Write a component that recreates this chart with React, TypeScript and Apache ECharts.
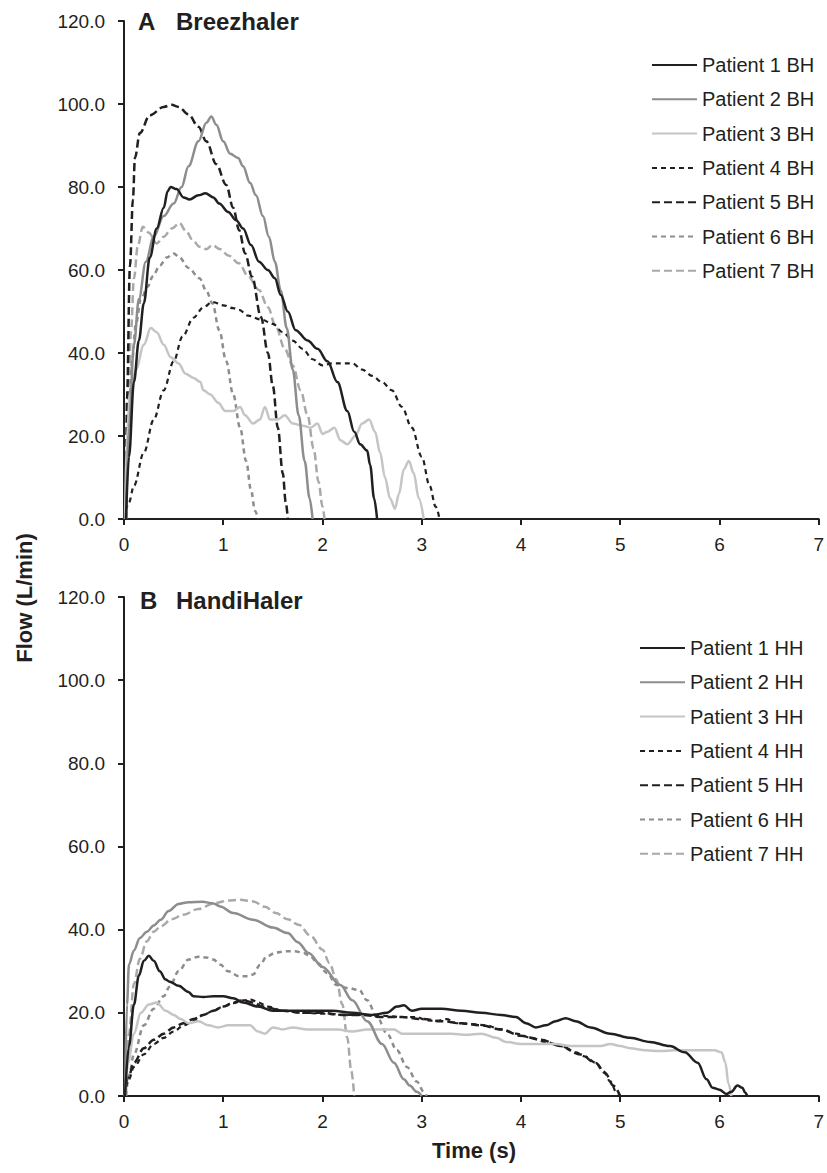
import React, { useEffect, useRef } from "react";
import * as echarts from "echarts";

// ---- Data (time s, flow L/min) ----
const xTicks = [0, 1, 2, 3, 4, 5, 6, 7];
const yTicks = [0, 20, 40, 60, 80, 100, 120];

const bhNames = ["Patient 1 BH", "Patient 2 BH", "Patient 3 BH", "Patient 4 BH", "Patient 5 BH", "Patient 6 BH", "Patient 7 BH"];
const hhNames = ["Patient 1 HH", "Patient 2 HH", "Patient 3 HH", "Patient 4 HH", "Patient 5 HH", "Patient 6 HH", "Patient 7 HH"];

const bh1 = [[0.02,0],[0.05,15],[0.1,33],[0.15,43],[0.2,52],[0.26,63],[0.33,70],[0.4,75],[0.44,79],[0.47,80],[0.53,79.5],[0.6,77.5],[0.66,77],[0.75,78],[0.82,78.5],[0.9,77.5],[0.96,76],[1.05,74],[1.13,72],[1.2,70],[1.28,66],[1.36,62],[1.45,60],[1.52,58],[1.58,54],[1.65,50],[1.73,45.5],[1.85,43],[1.95,41],[2.05,38],[2.15,33],[2.25,26],[2.32,21],[2.38,18],[2.45,16.5],[2.48,13],[2.52,5],[2.55,0]];
const bh2 = [[0.02,0],[0.05,22],[0.1,42],[0.15,53],[0.22,62],[0.3,68],[0.4,73],[0.5,76],[0.58,80],[0.65,85],[0.75,91],[0.83,95.5],[0.88,97],[0.93,95],[1.0,91],[1.07,88],[1.15,87],[1.2,85],[1.27,81],[1.33,78],[1.4,73],[1.46,68],[1.52,62],[1.58,55],[1.64,46],[1.7,36],[1.76,25],[1.82,14],[1.87,5],[1.9,0]];
const bh3 = [[0.01,0],[0.03,20],[0.06,30],[0.12,36],[0.2,42],[0.27,46],[0.33,45],[0.4,42],[0.47,39],[0.55,37.5],[0.62,35],[0.7,34],[0.77,33],[0.8,31],[0.87,30],[0.95,28],[1.02,26],[1.1,26],[1.17,27],[1.22,25],[1.3,23],[1.37,24],[1.42,27],[1.47,24],[1.55,24],[1.62,25],[1.7,23],[1.8,22.5],[1.88,22],[1.95,23],[2.0,20.5],[2.05,21],[2.12,22],[2.18,19],[2.25,18],[2.33,20],[2.4,23],[2.47,24],[2.53,21],[2.58,16],[2.63,10],[2.68,5],[2.73,2.5],[2.77,6],[2.82,12],[2.87,14],[2.92,11],[2.97,5],[3.02,0]];
const bh4 = [[0,0],[0.05,4],[0.1,8],[0.2,16],[0.3,24],[0.4,31],[0.5,38],[0.59,44],[0.7,48.5],[0.8,51],[0.89,52.3],[1.0,51.5],[1.1,50.8],[1.16,50.4],[1.25,49],[1.39,48],[1.5,47],[1.6,45],[1.7,43],[1.8,41],[1.9,38.5],[2.0,37],[2.1,37.5],[2.2,37.5],[2.3,37.5],[2.4,36],[2.5,34.5],[2.6,33],[2.7,31],[2.8,27],[2.9,22],[3.0,15],[3.08,8],[3.14,3],[3.18,0]];
const bh5 = [[0.02,0],[0.03,29],[0.06,61],[0.09,77],[0.11,87],[0.16,93],[0.26,97.3],[0.4,99.3],[0.48,99.8],[0.55,99.3],[0.65,97.5],[0.75,94.5],[0.83,91],[0.93,85.5],[1.03,80.5],[1.1,75],[1.16,69.6],[1.22,64],[1.29,58.4],[1.38,48.7],[1.45,40],[1.5,32],[1.55,22],[1.6,11],[1.63,4],[1.65,0]];
const bh6 = [[0.02,0],[0.05,25],[0.08,38],[0.12,47],[0.17,53],[0.24,56],[0.29,58.5],[0.36,61],[0.43,63],[0.5,64],[0.56,63],[0.65,60.5],[0.76,58],[0.83,55],[0.89,52],[0.96,45.5],[1.03,38],[1.1,30],[1.17,22],[1.23,14],[1.28,7],[1.32,2],[1.35,0]];
const bh7 = [[0.02,0],[0.04,25],[0.07,45],[0.1,58],[0.14,66],[0.19,70.4],[0.25,69],[0.33,66.4],[0.4,68],[0.48,70],[0.56,71.3],[0.62,69.5],[0.7,67],[0.76,65.6],[0.83,65],[0.89,66],[0.97,65],[1.05,63.5],[1.16,61.6],[1.25,58.5],[1.36,55.2],[1.45,51],[1.53,46.3],[1.62,41],[1.7,37],[1.78,31],[1.85,25],[1.91,17],[1.96,9],[2.0,3],[2.02,0]];

const hh1 = [[0.01,0],[0.05,12],[0.1,22],[0.15,29],[0.2,32.5],[0.25,33.7],[0.3,32.5],[0.36,30],[0.42,28],[0.46,27.5],[0.55,26.5],[0.65,25],[0.7,24],[0.8,23.8],[0.9,24],[1.0,24],[1.1,23.5],[1.2,22.5],[1.35,21.5],[1.5,20.5],[1.7,20.5],[1.9,20.5],[2.1,20.5],[2.3,20],[2.5,19.5],[2.65,20],[2.75,21.5],[2.82,21.8],[2.9,20.5],[3.0,21],[3.2,21],[3.4,20.5],[3.6,20],[3.8,19.5],[3.95,19],[4.05,17.5],[4.15,16.5],[4.25,17],[4.35,18],[4.45,18.7],[4.55,18],[4.7,16.5],[4.9,15],[5.1,14],[5.3,13],[5.5,12],[5.65,10.5],[5.78,8],[5.87,4],[5.93,2],[6.0,1.5],[6.07,0.5],[6.12,1],[6.18,2.5],[6.23,2],[6.26,0.8],[6.28,0]];
const hh2 = [[0.01,0],[0.03,22],[0.05,31.6],[0.1,35],[0.16,38],[0.23,39.5],[0.3,41],[0.37,42.4],[0.45,44.5],[0.55,46.2],[0.65,46.6],[0.79,46.7],[0.9,46.3],[0.97,45.6],[1.1,44],[1.3,42.4],[1.5,40.5],[1.65,39.2],[1.75,37],[1.86,34.4],[2.0,31],[2.18,26.7],[2.3,23],[2.45,18],[2.6,12.5],[2.72,8],[2.82,4],[2.88,2.5],[2.95,1],[3.0,0]];
const hh3 = [[0.01,0],[0.04,8],[0.1,15],[0.17,20],[0.25,22],[0.33,22.5],[0.42,20.5],[0.5,19.5],[0.57,18.5],[0.65,17.5],[0.75,18],[0.85,17],[0.95,16.5],[1.05,17],[1.15,17],[1.27,17],[1.35,15.5],[1.42,15],[1.5,16.5],[1.6,16],[1.7,16.5],[1.85,16],[2.0,16],[2.15,16],[2.3,15.5],[2.45,16],[2.6,16],[2.72,16],[2.8,15],[2.95,15],[3.1,15],[3.3,15],[3.45,14.7],[3.6,15],[3.75,14],[3.85,13],[4.0,12.5],[4.2,12.5],[4.35,12.5],[4.5,12],[4.65,12],[4.8,12],[4.9,12.5],[5.0,12],[5.1,11.5],[5.25,11],[5.4,10.8],[5.55,11],[5.7,11],[5.85,11],[5.95,11],[6.02,10.5],[6.06,8],[6.09,3],[6.12,0]];
const hh4 = [[0,0],[0.05,4],[0.1,7],[0.2,10],[0.3,12.5],[0.4,14],[0.5,15.5],[0.6,17],[0.7,18],[0.8,19.5],[0.9,20.5],[1.0,21.5],[1.1,22.3],[1.2,23],[1.28,23.2],[1.35,22.5],[1.45,21.5],[1.6,20.5],[1.8,20],[2.0,19.8],[2.2,19.5],[2.4,19.5],[2.6,19.3],[2.8,19],[2.95,19],[3.05,18.2],[3.15,18],[3.25,18.5],[3.35,17.5],[3.5,17.3],[3.65,17],[3.8,16],[3.95,15],[4.1,14],[4.25,13],[4.4,12],[4.55,10.5],[4.65,9.5],[4.75,8],[4.83,6],[4.9,3.5],[4.96,1],[5.0,0]];
const hh5 = [[0,0],[0.05,5],[0.1,8],[0.2,11.5],[0.3,13.5],[0.4,15],[0.5,16.5],[0.6,17.5],[0.7,18.5],[0.8,19.5],[0.9,20.5],[1.0,21.5],[1.1,22.5],[1.2,23],[1.3,22.5],[1.4,21.5],[1.6,20.5],[1.8,20],[2.0,20],[2.2,19.5],[2.4,19.5],[2.6,19],[2.8,19],[3.0,18.5],[3.2,18],[3.4,17.5],[3.6,17],[3.8,16],[4.0,14.5],[4.2,13.5],[4.4,12],[4.6,10],[4.75,8],[4.85,5.5],[4.93,2.5],[5.0,0]];
const hh6 = [[0.02,0],[0.05,5],[0.1,10],[0.2,17],[0.3,21],[0.4,24],[0.46,26.3],[0.55,30],[0.65,32.8],[0.75,33.5],[0.83,33.3],[0.9,32.8],[0.97,31.6],[1.05,30],[1.16,28.8],[1.25,28.8],[1.3,29.2],[1.37,31.5],[1.44,33.6],[1.53,34.5],[1.62,34.8],[1.72,34.8],[1.81,34.4],[1.88,33.5],[1.95,32],[2.05,29.5],[2.14,26.7],[2.25,26],[2.37,25.5],[2.45,23],[2.55,19],[2.65,15],[2.75,11],[2.85,7],[2.95,3.5],[3.02,1],[3.05,0]];
const hh7 = [[0.02,0],[0.05,15],[0.1,27],[0.16,33],[0.23,37.2],[0.3,39.5],[0.37,40.8],[0.48,42.5],[0.6,43.6],[0.75,45],[0.92,46.4],[1.05,47],[1.16,47.2],[1.3,46.8],[1.42,45.5],[1.53,44],[1.65,42.5],[1.76,41.2],[1.88,38.5],[2.0,35.2],[2.07,32],[2.14,28],[2.2,22],[2.25,14],[2.29,6],[2.32,0]];

const bhData = [bh1, bh2, bh3, bh4, bh5, bh6, bh7];
const hhData = [hh1, hh2, hh3, hh4, hh5, hh6, hh7];

const DARK = "#231f20";
const styles = [
  { color: "#231f20", type: "solid", width: 2.5 },
  { color: "#8d8d8f", type: "solid", width: 2.5 },
  { color: "#c4c5c7", type: "solid", width: 2.5 },
  { color: "#231f20", type: [5, 4], width: 2.2 },
  { color: "#231f20", type: [8, 4], width: 2.5 },
  { color: "#8d8d8f", type: [5, 4], width: 2.5 },
  { color: "#a8a9ab", type: [8, 4], width: 2.5 },
];

const FONT = "'Liberation Sans', Arial, Helvetica, sans-serif";

function makeSeries(names: string[], data: number[][][], idx: number) {
  return names.map((name, i) => ({
    name,
    type: "line",
    xAxisIndex: idx,
    yAxisIndex: idx,
    data: data[i],
    symbol: "none",
    showSymbol: false,
    smooth: 0.35,
    smoothMonotone: "x",
    lineStyle: { ...styles[i] },
    itemStyle: { color: styles[i].color },
    z: 10 - i,
  }));
}

function xAxis(gridIndex: number) {
  return {
    type: "value",
    gridIndex,
    min: xTicks[0],
    max: xTicks[xTicks.length - 1],
    interval: 1,
    splitLine: { show: false },
    axisLine: { show: true, onZero: false, lineStyle: { color: DARK, width: 2 } },
    axisTick: { show: true, inside: false, length: 6, lineStyle: { color: DARK, width: 2 } },
    axisLabel: { fontSize: 19, color: DARK, fontFamily: FONT, margin: 16 },
  };
}

function yAxis(gridIndex: number) {
  return {
    type: "value",
    gridIndex,
    min: yTicks[0],
    max: yTicks[yTicks.length - 1],
    interval: 20,
    splitLine: { show: false },
    axisLine: { show: true, lineStyle: { color: DARK, width: 2 } },
    axisTick: { show: true, inside: false, length: 6, lineStyle: { color: DARK, width: 2 } },
    axisLabel: {
      fontSize: 19,
      color: DARK,
      fontFamily: FONT,
      margin: 19,
      formatter: (v: number) => v.toFixed(1),
    },
  };
}

function legend(names: string[], left: number, top: number) {
  return {
    data: names,
    orient: "vertical",
    left,
    top,
    padding: 0,
    itemWidth: 45,
    itemHeight: 14,
    itemGap: 14.3,
    itemStyle: { opacity: 0, borderWidth: 0 },
    textStyle: { fontSize: 20, color: DARK, fontFamily: FONT },
    selectedMode: false,
  };
}

export default function App() {
  const ref = useRef<HTMLDivElement>(null);
  useEffect(() => {
    if (!ref.current) return;
    const chart = echarts.init(ref.current, undefined, { renderer: "svg" });
    chart.setOption({
      animation: false,
      backgroundColor: "#ffffff",
      grid: [
        { left: 124, top: 21, width: 700, height: 498 },
        { left: 124, top: 597, width: 700, height: 499 },
      ],
      xAxis: [xAxis(0), xAxis(1)],
      yAxis: [yAxis(0), yAxis(1)],
      legend: [legend(bhNames, 651, 55), legend(hhNames, 639, 638)],
      series: [...makeSeries(bhNames, bhData, 0), ...makeSeries(hhNames, hhData, 1)],
      graphic: [
        { type: "text", left: 138, top: 9, style: { text: "A", font: `bold 24px ${FONT}`, fill: DARK } },
        { type: "text", left: 176, top: 9, style: { text: "Breezhaler", font: `bold 24px ${FONT}`, fill: DARK } },
        { type: "text", left: 140, top: 588, style: { text: "B", font: `bold 24px ${FONT}`, fill: DARK } },
        { type: "text", left: 176, top: 588, style: { text: "HandiHaler", font: `bold 24px ${FONT}`, fill: DARK } },
        {
          type: "text",
          x: 24,
          y: 598,
          rotation: Math.PI / 2,
          style: { text: "Flow (L/min)", font: `bold 22px ${FONT}`, fill: DARK, align: "center", verticalAlign: "middle" },
        },
        {
          type: "text",
          x: 474,
          y: 1150,
          style: { text: "Time (s)", font: `bold 22px ${FONT}`, fill: DARK, align: "center", verticalAlign: "middle" },
        },
      ],
    });
    return () => chart.dispose();
  }, []);
  return <div ref={ref} style={{ position: "absolute", left: 0, top: 0, width: 827, height: 1173 }} />;
}
